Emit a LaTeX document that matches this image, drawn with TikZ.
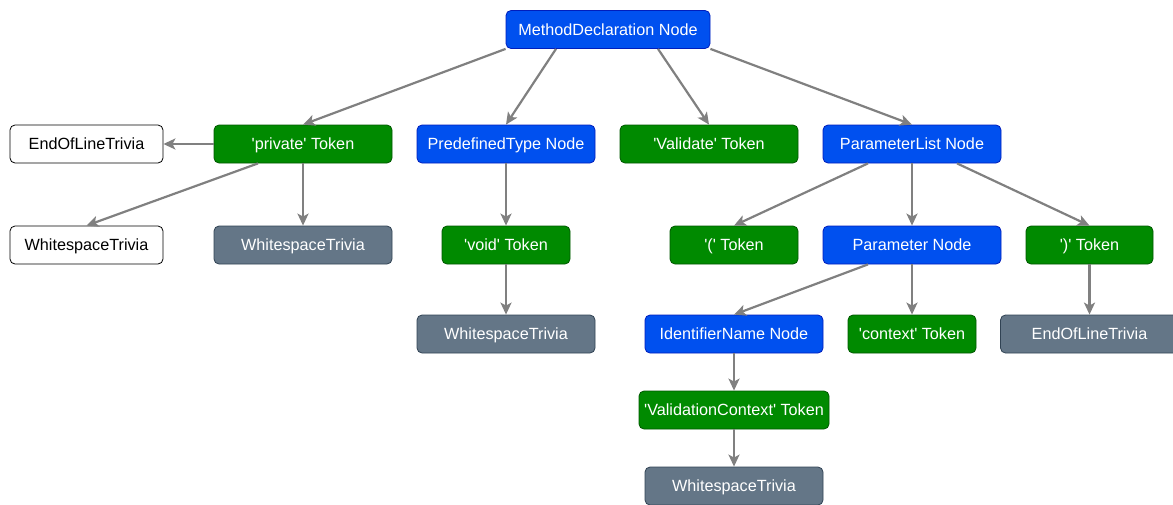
\documentclass[tikz,border=0pt]{standalone}
\usepackage{fontspec}
\setmainfont{Liberation Sans}[Ligatures=TeXOff]
\usetikzlibrary{arrows.meta}

\definecolor{nodeblue}{HTML}{0050EF}
\definecolor{nodeblueline}{HTML}{001DBC}
\definecolor{tokgreen}{HTML}{008A00}
\definecolor{tokgreenline}{HTML}{005700}
\definecolor{trivgray}{HTML}{647687}
\definecolor{trivgrayline}{HTML}{314354}
\definecolor{edgegray}{HTML}{808080}

\tikzset{
  box/.style={rectangle, rounded corners=5pt, line width=0.8pt, inner sep=0pt,
    minimum height=38pt, text height=12pt, text depth=0.4pt,
    font=\fontsize{16.2}{19}\selectfont},
  synnode/.style={box, fill=nodeblue, draw=nodeblueline, text=white},
  token/.style={box, fill=tokgreen, draw=tokgreenline, text=white},
  trivia/.style={box, fill=trivgray, draw=trivgrayline, text=white},
  plaintriv/.style={box, fill=white, draw=black, text=black},
  wide/.style={minimum width=178pt},
  narrow/.style={minimum width=128pt},
  edge/.style={draw=edgegray, line width=2.2pt,
    -{Stealth[length=12pt, width=11pt, inset=3pt]}},
}

\begin{document}
\begin{tikzpicture}[x=1pt, y=-1pt]
  \clip (0,0) rectangle (1173,504);

  % root
  \node[synnode, minimum width=204pt] (md) at (608,29.5) {MethodDeclaration Node};

  % first level
  \node[plaintriv, minimum width=153pt] (eolw) at (86.5,144) {EndOfLineTrivia};
  \node[token, wide] (priv) at (303,144) {'private' Token};
  \node[synnode, wide] (ptype) at (506,144) {PredefinedType Node};
  \node[token, wide] (valid) at (709,144) {'Validate' Token};
  \node[synnode, wide] (plist) at (912,144) {ParameterList Node};

  % second level
  \node[plaintriv, minimum width=153pt] (wsw) at (86.5,245) {WhitespaceTrivia};
  \node[trivia, wide] (wsp) at (303,245) {WhitespaceTrivia};
  \node[token, narrow] (void) at (506,245) {'void' Token};
  \node[token, narrow] (lpar) at (734,245) {'(' Token};
  \node[synnode, wide] (param) at (912,245) {Parameter Node};
  \node[token, narrow, minimum width=127pt] (rpar) at (1089.5,245) {')' Token};

  % third level
  \node[trivia, wide] (wsv) at (506,334) {WhitespaceTrivia};
  \node[synnode, wide] (ident) at (734,334) {IdentifierName Node};
  \node[token, narrow] (ctx) at (912,334) {'context' Token};
  \node[trivia, wide] (eolr) at (1089.5,334) {EndOfLineTrivia};

  % fourth and fifth level
  \node[token, minimum width=190pt] (vctx) at (734,410) {'ValidationContext' Token};
  \node[trivia, wide] (wsi) at (734,486) {WhitespaceTrivia};

  % connectors
  \draw[edge] (md.south west) -- (priv.north);
  \draw[edge] ([xshift=-52pt]md.south) -- (ptype.north);
  \draw[edge] ([xshift=50pt]md.south) -- (valid.north);
  \draw[edge] (md.south east) -- (plist.north);

  \draw[edge] (priv.west) -- (eolw.east);
  \draw[edge] ([xshift=-45pt]priv.south) -- (wsw.north);
  \draw[edge] (priv.south) -- (wsp.north);

  \draw[edge] (ptype.south) -- (void.north);
  \draw[edge] (void.south) -- (wsv.north);

  \draw[edge] ([xshift=-44pt]plist.south) -- (lpar.north);
  \draw[edge] (plist.south) -- (param.north);
  \draw[edge] ([xshift=45pt]plist.south) -- (rpar.north);

  \draw[edge] ([xshift=-44pt]param.south) -- (ident.north);
  \draw[edge] (param.south) -- (ctx.north);
  \draw[edge] (rpar.south) -- (eolr.north);

  \draw[edge] (ident.south) -- (vctx.north);
  \draw[edge] (vctx.south) -- (wsi.north);
\end{tikzpicture}
\end{document}
